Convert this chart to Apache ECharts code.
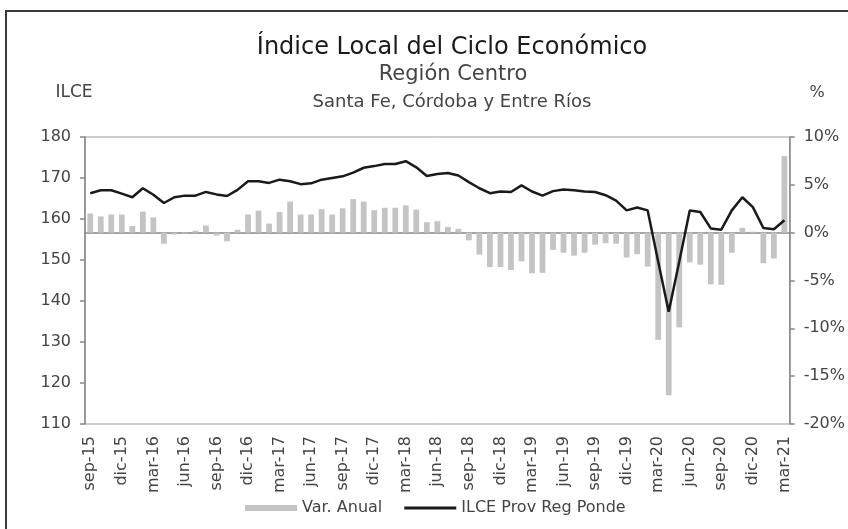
<!DOCTYPE html>
<html>
<head>
<meta charset="utf-8">
<script src="https://cdn.jsdelivr.net/npm/echarts@6/dist/echarts.min.js"></script>
<style>html,body{margin:0;padding:0;background:#fff;}#c{width:848px;height:529px;}</style>
</head>
<body>
<div id="c"></div>
<script>
var categories = [
 'sep-15','oct-15','nov-15','dic-15','ene-16','feb-16','mar-16','abr-16','may-16','jun-16','jul-16','ago-16',
 'sep-16','oct-16','nov-16','dic-16','ene-17','feb-17','mar-17','abr-17','may-17','jun-17','jul-17','ago-17',
 'sep-17','oct-17','nov-17','dic-17','ene-18','feb-18','mar-18','abr-18','may-18','jun-18','jul-18','ago-18',
 'sep-18','oct-18','nov-18','dic-18','ene-19','feb-19','mar-19','abr-19','may-19','jun-19','jul-19','ago-19',
 'sep-19','oct-19','nov-19','dic-19','ene-20','feb-20','mar-20','abr-20','may-20','jun-20','jul-20','ago-20',
 'sep-20','oct-20','nov-20','dic-20','ene-21','feb-21','mar-21'
];
var varAnual = [
 2.0, 1.7, 1.9, 1.9, 0.7, 2.2, 1.6, -1.15, -0.2, -0.1, 0.2, 0.75,
 -0.3, -0.9, 0.3, 1.9, 2.3, 0.95, 2.15, 3.25, 1.9, 1.9, 2.45, 1.9,
 2.55, 3.5, 3.25, 2.35, 2.6, 2.6, 2.85, 2.4, 1.1, 1.2, 0.6, 0.4,
 -0.8, -2.3, -3.6, -3.6, -3.9, -3.0, -4.25, -4.2, -1.8, -2.1, -2.4, -2.1,
 -1.25, -1.1, -1.15, -2.6, -2.25, -3.55, -11.2, -17.0, -9.9, -3.1, -3.35, -5.4,
 -5.45, -2.1, 0.5, 0.1, -3.2, -2.7, 8.0
];
var ilce = [
 166.3, 167.0, 167.0, 166.2, 165.3, 167.5, 165.9, 163.9, 165.3, 165.7, 165.7, 166.6,
 166.0, 165.6, 167.1, 169.2, 169.2, 168.8, 169.6, 169.2, 168.5, 168.7, 169.6, 170.0,
 170.4, 171.3, 172.5, 172.9, 173.4, 173.4, 174.1, 172.6, 170.5, 171.0, 171.2, 170.6,
 169.0, 167.5, 166.3, 166.7, 166.6, 168.2, 166.7, 165.7, 166.8, 167.2, 167.0, 166.7,
 166.6, 165.8, 164.5, 162.1, 162.8, 162.1, 149.6, 137.4, 149.6, 162.1, 161.7, 157.7,
 157.4, 162.1, 165.3, 162.9, 157.8, 157.5, 159.7
];
var leftTicks = {min: 110, max: 180, interval: 10};
var rightTicks = {min: -20, max: 10, interval: 5};

var FONT = 'DejaVu Sans';
var chart = echarts.init(document.getElementById('c'), null, {renderer: 'canvas'});
chart.setOption({
  animation: false,
  backgroundColor: '#fff',
  textStyle: {fontFamily: FONT},
  graphic: [
    {type: 'rect', shape: {x: 6, y: 11, width: 900, height: 600}, style: {fill: 'none', stroke: '#3a3a3a', lineWidth: 2}, silent: true},
    {type: 'text', x: 452, y: 48, style: {text: 'Índice Local del Ciclo Económico', fontFamily: FONT, fontSize: 24, fill: '#1a1a1a', textAlign: 'center', textVerticalAlign: 'middle'}},
    {type: 'text', x: 453, y: 75, style: {text: 'Región Centro', fontFamily: FONT, fontSize: 21, fill: '#444', textAlign: 'center', textVerticalAlign: 'middle'}},
    {type: 'text', x: 452, y: 102, style: {text: 'Santa Fe, Córdoba y Entre Ríos', fontFamily: FONT, fontSize: 18, fill: '#444', textAlign: 'center', textVerticalAlign: 'middle'}},
    {type: 'text', x: 74, y: 93, style: {text: 'ILCE', fontFamily: FONT, fontSize: 17, fill: '#444', textAlign: 'center', textVerticalAlign: 'middle'}},
    {type: 'text', x: 817, y: 93, style: {text: '%', fontFamily: FONT, fontSize: 16, fill: '#444', textAlign: 'center', textVerticalAlign: 'middle'}}
  ],
  grid: {left: 85, right: 56, top: 137, bottom: 105, show: true, borderColor: '#999', borderWidth: 1, backgroundColor: 'transparent'},
  legend: {
    left: 240, top: 495, itemWidth: 52, itemHeight: 6, itemGap: 22, symbolKeepAspect: true,
    textStyle: {fontFamily: FONT, fontSize: 16, color: '#444'},
    data: [
      {name: 'Var. Anual', icon: 'rect'},
      {name: 'ILCE Prov Reg Ponde', icon: 'path://M0,0h52v3h-52z'}
    ]
  },
  xAxis: {
    type: 'category', data: categories, boundaryGap: true,
    axisLine: {lineStyle: {color: '#888', width: 1.5}},
    axisTick: {interval: 2, length: 6, lineStyle: {color: '#888', width: 1.5}},
    axisLabel: {interval: 2, rotate: 90, margin: 12, fontSize: 16, color: '#444', fontFamily: FONT}
  },
  yAxis: [
    {type: 'value', min: leftTicks.min, max: leftTicks.max, interval: leftTicks.interval,
     axisLine: {show: true, lineStyle: {color: '#888', width: 1.5}},
     axisTick: {show: true, length: 5, lineStyle: {color: '#888', width: 1.5}},
     splitLine: {show: false},
     axisLabel: {margin: 14, fontSize: 16, color: '#444', fontFamily: FONT}},
    {type: 'value', min: rightTicks.min, max: rightTicks.max, interval: rightTicks.interval, position: 'right',
     axisLine: {show: true, lineStyle: {color: '#888', width: 1.5}},
     axisTick: {show: true, length: 5, lineStyle: {color: '#888', width: 1.5}},
     splitLine: {show: false},
     axisLabel: {margin: 14, fontSize: 16, color: '#444', fontFamily: FONT, formatter: '{value}%'}}
  ],
  series: [
    {name: 'Var. Anual', type: 'bar', yAxisIndex: 1, data: varAnual, barWidth: '55%',
     itemStyle: {color: '#c4c4c4'}},
    {name: 'ILCE Prov Reg Ponde', type: 'line', yAxisIndex: 0, data: ilce, showSymbol: false, symbol: 'none',
     lineStyle: {color: '#1a1a1a', width: 2.5}, itemStyle: {color: '#1a1a1a'}, z: 5}
  ]
});
</script>
</body>
</html>
